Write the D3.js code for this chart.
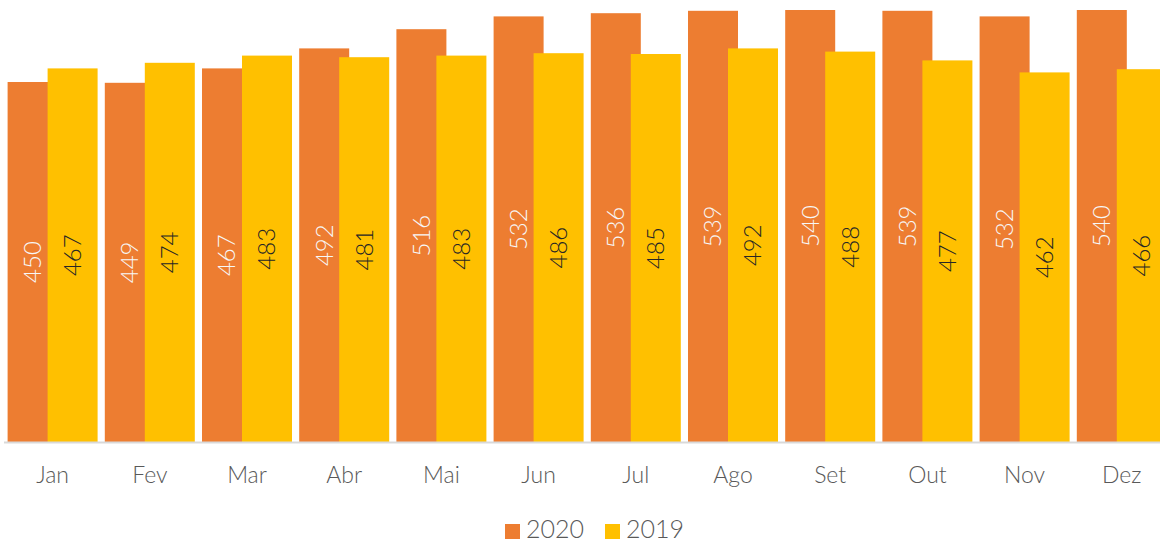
<!DOCTYPE html>
<html>
<head>
<meta charset="utf-8">
<script src="https://cdn.jsdelivr.net/npm/d3@7"></script>
<style>
  html, body { margin: 0; padding: 0; background: #fff; overflow: hidden; }
  text { font-family: Lato, "Open Sans", sans-serif; font-weight: 300; }
</style>
</head>
<body>
<div id="chart"></div>
<script>
const months = ['Jan', 'Fev', 'Mar', 'Abr', 'Mai', 'Jun', 'Jul', 'Ago', 'Set', 'Out', 'Nov', 'Dez'];
const series = ['2020', '2019'];
const values2020 = [450, 449, 467, 492, 516, 532, 536, 539, 540, 539, 532, 540];
const values2019 = [467, 474, 483, 481, 483, 486, 485, 492, 488, 477, 462, 466];

const colors = { '2020': '#ED7D31', '2019': '#FFC000' };
const labelColors = { '2020': '#F7F7F7', '2019': '#262626' };

const width = 1160;
const height = 542;
const baseY = 442;
const barW = 50;

const svg = d3.select('#chart').append('svg').attr('width', width).attr('height', height);

// band step ~97.2 px, chart runs slightly past the right edge
const x = d3.scaleBand().domain(months).range([4, 4 + 97.2 * 12]).paddingInner(0).paddingOuter(0);
const y = d3.scaleLinear().domain([0, 540]).range([baseY, 10]);

const rows = months.map((m, i) => ({ month: m, '2020': values2020[i], '2019': values2019[i] }));
// orange bar starts at left, yellow overlaps it by 10px and is drawn on top
const offset = { '2020': -45, '2019': -5 };

const groups = svg.selectAll('g.month').data(rows).enter().append('g')
  .attr('class', 'month')
  .attr('transform', d => `translate(${x(d.month) + x.bandwidth() / 2},0)`);

series.forEach(s => {
  groups.append('rect')
    .attr('x', offset[s])
    .attr('y', d => y(d[s]))
    .attr('width', barW)
    .attr('height', d => baseY - y(d[s]))
    .style('fill', colors[s]);
});

series.forEach(s => {
  groups.append('text')
    .text(d => d[s])
    .attr('transform', d => `translate(${offset[s] + barW / 2},${(y(d[s]) + baseY) / 2}) rotate(-90)`)
    .attr('text-anchor', 'middle')
    .attr('dy', '0.35em')
    .style('font-size', '24px')
    .style('fill', labelColors[s]);
});

// axis line
svg.append('line').attr('x1', 4).attr('x2', width).attr('y1', baseY + 0.5).attr('y2', baseY + 0.5)
  .style('stroke', '#D9D9D9').style('stroke-width', 2);

const xAxis = svg.append('g').attr('transform', `translate(0,${baseY})`)
  .call(d3.axisBottom(x).tickSize(0).tickPadding(0));
xAxis.select('.domain').remove();
xAxis.selectAll('text')
  .attr('y', 41)
  .attr('dy', 0)
  .style('font-size', '23px')
  .style('fill', '#595959')
  .style('font-family', 'Lato, "Open Sans", sans-serif')
  .style('font-weight', 300);

// legend
const legend = svg.append('g').attr('transform', 'translate(505,538)');
const legendX = { '2020': 0, '2019': 100 };
series.forEach(s => {
  const item = legend.append('g').attr('transform', `translate(${legendX[s]},0)`);
  item.append('rect').attr('x', 0).attr('y', -14).attr('width', 15).attr('height', 15).style('fill', colors[s]);
  item.append('text').attr('x', 21).attr('y', 0).text(s)
    .style('font-size', '25px').style('fill', '#595959');
});
</script>
</body>
</html>
